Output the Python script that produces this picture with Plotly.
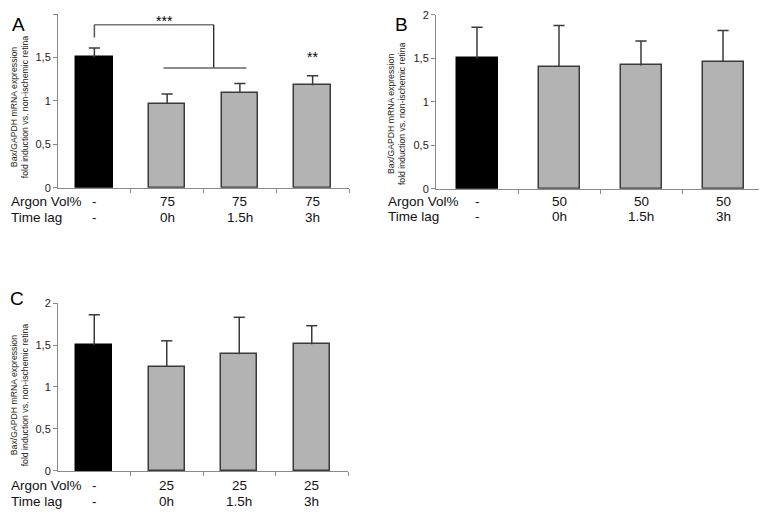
import plotly.graph_objects as go

# page body has a default 8px margin, so the figure is drawn 8px smaller and
# every screen position below is shifted by OFF
OFF = 8
W, H = 767 - OFF, 517 - OFF

categories = [0, 1, 2, 3]
time_lag = ["-", "0h", "1.5h", "3h"]
argon_A = ["-", "75", "75", "75"]
argon_B = ["-", "50", "50", "50"]
argon_C = ["-", "25", "25", "25"]

vals_A = [1.50, 0.97, 1.09, 1.18]
err_A = [0.11, 0.11, 0.11, 0.11]
vals_B = [1.50, 1.40, 1.42, 1.46]
err_B = [0.36, 0.48, 0.28, 0.36]
vals_C = [1.50, 1.24, 1.39, 1.51]
err_C = [0.36, 0.31, 0.44, 0.22]

y_ticks = [0, 0.5, 1, 1.5, 2]
y_ticktext = ["0", "0,5", "1", "1,5", "2"]

FONT = "Liberation Sans, Arial, sans-serif"
AXIS_COL = "#8a8a8a"
BAR_COLORS = ["#000000", "#b3b3b3", "#b3b3b3", "#b3b3b3"]
LINE_COLORS = ["#000000", "#3a3a3a", "#3a3a3a", "#3a3a3a"]


def fx(px):
    return (px - OFF) / W


def fy(py):
    return 1 - (py - OFF) / H


# panel screen-pixel boxes: (x0, x1, y at 2, y at 0)
panels = {
    "A": dict(ax="", box=(58, 349, 8, 186), vals=vals_A, err=err_A, argon=argon_A,
              letter=(18, 19), ytitle_x=8, ytitle_y=103, rows_x=10, rows_y=(200, 216)),
    "B": dict(ax="2", box=(436, 764, 9, 187), vals=vals_B, err=err_B, argon=argon_B,
              letter=(401, 19), ytitle_x=385, ytitle_y=110, rows_x=387, rows_y=(200, 215)),
    "C": dict(ax="3", box=(58, 348, 304, 476), vals=vals_C, err=err_C, argon=argon_C,
              letter=(17, 299), ytitle_x=8, ytitle_y=398, rows_x=10, rows_y=(491, 507)),
}

fig = go.Figure()
annotations = []
layout = {}

for name, p in panels.items():
    ax = p["ax"]
    x0, x1, yt, yb = p["box"]
    fig.add_trace(go.Bar(
        x=categories, y=p["vals"], width=0.5,
        marker=dict(color=BAR_COLORS, line=dict(color=LINE_COLORS, width=1.5)),
        xaxis="x" + ax, yaxis="y" + ax, showlegend=False, hoverinfo="skip",
    ))
    # upper error bars: stems from bar top plus a horizontal cap
    stem_x, stem_y = [], []
    for c, v, e in zip(categories, p["vals"], p["err"]):
        stem_x += [c, c, None]
        stem_y += [v, v + e, None]
    fig.add_trace(go.Scatter(
        x=stem_x, y=stem_y, mode="lines", line=dict(color="#3a3a3a", width=1.5),
        xaxis="x" + ax, yaxis="y" + ax, showlegend=False, hoverinfo="skip",
    ))
    fig.add_trace(go.Scatter(
        x=categories, y=[v + e for v, e in zip(p["vals"], p["err"])], mode="markers",
        marker=dict(symbol="line-ew", size=8, line=dict(color="#3a3a3a", width=1.5)),
        xaxis="x" + ax, yaxis="y" + ax, showlegend=False, hoverinfo="skip",
    ))
    layout["xaxis" + ax] = dict(
        domain=[fx(x0), fx(x1)], range=[-0.5, 3.5], anchor="y" + ax,
        showgrid=False, zeroline=False, showline=True, linecolor=AXIS_COL, linewidth=1,
        tickvals=[0.5, 1.5, 2.5, 3.5], ticks="outside", ticklen=4, tickcolor=AXIS_COL,
        showticklabels=False, fixedrange=True,
    )
    layout["yaxis" + ax] = dict(
        domain=[fy(yb), fy(yt)], range=[0, 2], anchor="x" + ax,
        showgrid=False, zeroline=False, showline=True, linecolor=AXIS_COL, linewidth=1,
        tickvals=y_ticks, ticktext=y_ticktext, ticks="outside", ticklen=4,
        tickcolor=AXIS_COL, tickfont=dict(family=FONT, size=11, color="#222"),
        fixedrange=True,
    )
    lx, ly = p["letter"]
    annotations.append(dict(text=name, x=fx(lx), y=fy(ly), xref="paper", yref="paper",
                            showarrow=False, font=dict(family=FONT, size=19, color="#000"),
                            xanchor="center", yanchor="middle"))
    annotations.append(dict(text="Bax/GAPDH mRNA expression<br>fold induction vs. non-ischemic retina",
                            x=fx(p["ytitle_x"]), y=fy(p["ytitle_y"]), xref="paper", yref="paper",
                            showarrow=False, textangle=-90, borderpad=0,
                            font=dict(family=FONT, size=8.7, color="#222"),
                            xanchor="left", yanchor="middle"))
    r1, r2 = p["rows_y"]
    for txt, ry in (("Argon Vol%", r1), ("Time lag", r2)):
        annotations.append(dict(text=txt, x=fx(p["rows_x"]), y=fy(ry), xref="paper", yref="paper",
                                showarrow=False, font=dict(family=FONT, size=13.5, color="#111"),
                                xanchor="left", yanchor="middle", borderpad=0))
    for c, a, t in zip(categories, p["argon"], time_lag):
        annotations.append(dict(text=a, x=c, y=fy(r1), xref="x" + ax, yref="paper",
                                showarrow=False, font=dict(family=FONT, size=13.5, color="#111"),
                                xanchor="center", yanchor="middle"))
        annotations.append(dict(text=t, x=c, y=fy(r2), xref="x" + ax, yref="paper",
                                showarrow=False, font=dict(family=FONT, size=13.5, color="#111"),
                                xanchor="center", yanchor="middle"))

# significance bracket on panel A
bracket_top = 1.876
bracket_left = (0.0, 1.73)
bracket_right_x = 1.64
bracket_low = (0.95, 2.09, 1.38)
shapes = [
    dict(type="line", xref="x", yref="y", x0=bracket_left[0], x1=bracket_right_x,
         y0=bracket_top, y1=bracket_top, line=dict(color="#777", width=1.5)),
    dict(type="line", xref="x", yref="y", x0=bracket_left[0], x1=bracket_left[0],
         y0=bracket_left[1], y1=bracket_top, line=dict(color="#555", width=1.5)),
    dict(type="line", xref="x", yref="y", x0=bracket_right_x, x1=bracket_right_x,
         y0=bracket_low[2], y1=bracket_top, line=dict(color="#222", width=1.3)),
    dict(type="line", xref="x", yref="y", x0=bracket_low[0], x1=bracket_low[1],
         y0=bracket_low[2], y1=bracket_low[2], line=dict(color="#666", width=1.5)),
]
annotations.append(dict(text="***", x=0.96, y=1.0, xref="x", yref="paper", showarrow=False,
                        font=dict(family=FONT, size=14, color="#000"), yanchor="top",
                        borderpad=0, yshift=2))
annotations.append(dict(text="**", x=3.0, y=1.51, xref="x", yref="y", showarrow=False,
                        font=dict(family=FONT, size=14, color="#000"), yanchor="middle"))

fig.update_layout(
    width=W, height=H, margin=dict(l=0, r=0, t=0, b=0),
    paper_bgcolor="white", plot_bgcolor="white",
    annotations=annotations, shapes=shapes, bargap=0, **layout,
)
fig.write_html("out.html")
